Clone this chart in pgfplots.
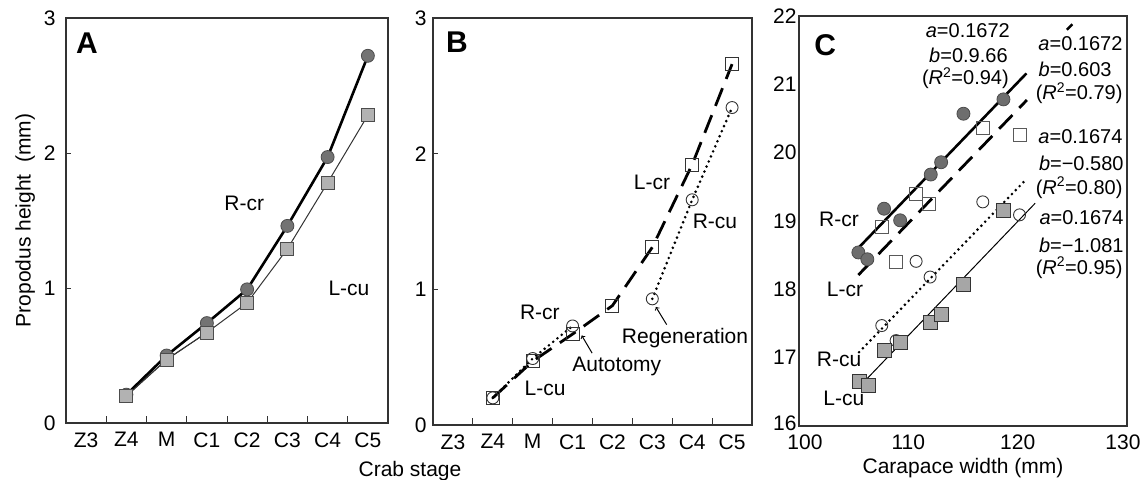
\documentclass[border=0pt]{standalone}
\usepackage{pgfplots}
\pgfplotsset{compat=1.18}
\usepackage{fontspec}
\setmainfont{Liberation Sans}

\newcommand\fbig{\fontsize{21bp}{23bp}\selectfont}
\newcommand\fsmall{\fontsize{20bp}{22bp}\selectfont}
\newcommand\fpanel{\fontsize{30bp}{32bp}\selectfont\bfseries}

\pgfplotsset{
  panel/.style={
    scale only axis, anchor=south west,
    axis line style={black!80, line width=1.1bp},
    tick style={black!80, line width=0.8bp},
    tick align=inside, xtick pos=bottom, ytick pos=left,
    major tick length=5bp, minor tick length=7bp,
    tick label style={font=\fbig},
    label style={font=\fbig},
    /pgf/number format/assume math mode=true,
    clip=false,
  },
  stage/.style={
    xmin=0.5, xmax=8.5, ymin=0, ymax=3,
    xtick={1,...,8}, xticklabels={Z3,Z4,M,C1,C2,C3,C4,C5},
    minor xtick={1.5,2.5,...,7.5},
    major x tick style={draw=none},
    ytick={0,1,2,3},
    xticklabel style={yshift=-6bp},
  },
  dotline/.style={line width=2.9bp, line cap=round, dash pattern=on 0bp off 5.5bp},
  dashline/.style={line width=2.8bp, dash pattern=on 19bp off 10bp},
}

\begin{document}
\begin{tikzpicture}
\useasboundingbox (0,0) rectangle (1146bp,-480bp);

% ---- A ----
\begin{axis}[panel, stage, at={(66bp,-423bp)}, width=322bp, height=405bp,
  yticklabel style={xshift=-7bp},
  ylabel={Propodus height\ \ (mm)}, ylabel style={yshift=2bp}]
\addplot[black!80, line width=1bp, mark=square*, mark size=6.5bp,
  mark options={fill=black!30, draw=black!70, line width=0.8bp}]
  coordinates {(2,0.20)(3,0.47)(4,0.67)(5,0.89)(6,1.29)(7,1.78)(8,2.28)};
\addplot[black, line width=2.6bp, mark=*, mark size=6.5bp,
  mark options={fill=black!55, draw=black!70, line width=0.8bp}]
  coordinates {(2,0.21)(3,0.50)(4,0.74)(5,0.99)(6,1.46)(7,1.97)(8,2.72)};
\addplot[black!80, line width=1bp, mark=square*, mark size=6.5bp,
  mark options={fill=black!30, draw=black!70, line width=0.8bp}]
  coordinates {(2,0.20)(3,0.47)(4,0.67)};
\node[font=\fpanel] at (axis cs:1.02,2.81) {A};
\node[font=\fbig] at (axis cs:4.93,1.63) {R-cr};
\node[font=\fbig] at (axis cs:7.53,1.00) {L-cu};
\end{axis}

% ---- B ----
\begin{axis}[panel, stage, at={(433bp,-425bp)}, width=319bp, height=407bp,
  yticklabel style={xshift=-3bp}]
\addplot[black, dotline, unbounded coords=jump, mark=o, mark size=6bp,
  mark options={solid, draw=black!80, fill=white, line width=0.9bp}]
  coordinates {(2,0.20)(3,0.49)(4,0.73)(5,nan)(6,0.93)(7,1.66)(8,2.34)};
\addplot[black, dashline, mark=square, mark size=6.5bp,
  mark options={solid, draw=black!80, line width=0.9bp}]
  coordinates {(2,0.20)(3,0.47)(4,0.67)(5,0.88)(6,1.31)(7,1.92)(8,2.66)};
\node[font=\fpanel] at (axis cs:1.1,2.82) {B};
\node[font=\fbig] at (axis cs:5.99,1.79) {L-cr};
\node[font=\fbig] at (axis cs:7.57,1.50) {R-cu};
\node[font=\fbig] at (axis cs:3.18,0.83) {R-cr};
\node[font=\fbig] at (axis cs:3.31,0.27) {L-cu};
\node[font=\fbig] at (axis cs:5.11,0.43) {Autotomy};
\node[font=\fbig] at (axis cs:6.82,0.64) {Regeneration};
\draw[->, black, line width=1bp] (axis cs:4.49,0.53) -- (axis cs:4.23,0.66);
\draw[->, black, line width=1bp] (axis cs:6.36,0.74) -- (axis cs:6.09,0.87);
\end{axis}

\node[font=\fbig] at (410bp,-471bp) {Crab stage};

% ---- C ----
\begin{axis}[panel, at={(799bp,-426bp)}, width=328bp, height=410bp,
  xmin=100, xmax=130, ymin=16, ymax=22,
  xtick={100,110,120,130}, ytick={16,...,22},
  xticklabels={\hspace*{12bp}100,110,120,130\hspace*{8bp}},
  yticklabels={\raisebox{6bp}{16},17,18,19,20,21,22},
  major tick length=0bp,
  xticklabel style={yshift=-5bp}, yticklabel style={xshift=1bp},
  xlabel={Carapace width (mm)}, xlabel style={yshift=-2bp}]
% points
\addplot[only marks, mark=*, mark size=6.5bp,
  mark options={fill=black!57, draw=black!70, line width=0.8bp}]
  coordinates {(105.43,18.54)(106.25,18.44)(107.78,19.18)(109.25,19.01)
               (112.05,19.68)(113.0,19.86)(115.04,20.57)(118.7,20.78)};
\addplot[only marks, mark=square, mark size=6.5bp,
  mark options={draw=black!65, line width=0.9bp}]
  coordinates {(107.57,18.91)(110.68,19.39)(111.93,19.25)(116.81,20.36)
               (120.23,20.26)(108.88,18.40)};
\addplot[only marks, mark=o, mark size=6bp,
  mark options={draw=black!80, line width=0.9bp}]
  coordinates {(107.57,17.47)(108.88,17.25)(110.71,18.41)(111.99,18.18)
               (116.81,19.28)(120.17,19.09)};
\addplot[only marks, mark=square*, mark size=7bp,
  mark options={fill=black!35, draw=black!80, line width=0.9bp}]
  coordinates {(105.49,16.65)(106.35,16.60)(107.78,17.10)(109.25,17.22)
               (112.05,17.52)(113.0,17.63)(115.04,18.07)(118.7,19.15)};
% regression lines
\addplot[black, line width=2.6bp] coordinates {(105.4,18.60)(120.8,21.16)};
\addplot[black, dashline] coordinates {(105.43,18.21)(120.84,20.77)};
\addplot[black, line width=2.4bp] coordinates {(124.5,21.80)(125.0,21.88)};
\addplot[black, dotline] coordinates {(105.49,17.08)(120.84,19.62)};
\addplot[black, line width=1bp] coordinates {(105.49,16.57)(121.6,19.26)};
% texts
\node[font=\fpanel] at (axis cs:102.4,21.58) {C};
\node[font=\fbig] at (axis cs:103.66,19.02) {R-cr};
\node[font=\fbig] at (axis cs:104.2,18.0) {L-cr};
\node[font=\fbig] at (axis cs:103.66,16.98) {R-cu};
\node[font=\fbig] at (axis cs:104.1,16.40) {L-cu};
\begin{scope}[every node/.style={font=\fsmall, anchor=east, inner sep=0bp}]
\node at (axis cs:119.3,21.79) {\textit{a}=0.1672};
\node at (axis cs:119.1,21.42) {\textit{b}=0.9.66};
\node at (axis cs:119.2,21.09) {(\textit{R}\textsuperscript{2}=0.94)};
\node at (axis cs:129.6,21.59) {\textit{a}=0.1672};
\node at (axis cs:128.6,21.22) {\textit{b}=0.603};
\node at (axis cs:129.6,20.87) {(\textit{R}\textsuperscript{2}=0.79)};
\node at (axis cs:129.6,20.23) {\textit{a}=0.1674};
\node at (axis cs:129.7,19.85) {\textit{b}=−0.580};
\node at (axis cs:129.6,19.49) {(\textit{R}\textsuperscript{2}=0.80)};
\node at (axis cs:129.7,19.05) {\textit{a}=0.1674};
\node at (axis cs:129.7,18.65) {\textit{b}=−1.081};
\node at (axis cs:129.6,18.32) {(\textit{R}\textsuperscript{2}=0.95)};
\end{scope}
\end{axis}
\end{tikzpicture}
\end{document}
